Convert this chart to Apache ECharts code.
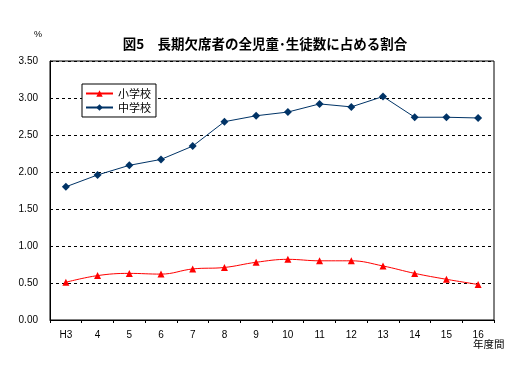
<!DOCTYPE html>
<html><head><meta charset="utf-8">
<script src="https://cdn.jsdelivr.net/npm/echarts@6/dist/echarts.min.js"></script>
<style>html,body{margin:0;padding:0;background:#fff}#c{width:530px;height:379px}</style>
</head><body><div id="c"></div>
<script>
var categories = ['H3','4','5','6','7','8','9','10','11','12','13','14','15','16'];
var elementary = [0.51,0.60,0.63,0.62,0.69,0.71,0.78,0.82,0.80,0.80,0.73,0.63,0.55,0.48];
var juniorHigh = [1.80,1.96,2.09,2.17,2.35,2.68,2.76,2.81,2.92,2.88,3.02,2.74,2.74,2.73];
var yTicks = ['0.00','0.50','1.00','1.50','2.00','2.50','3.00','3.50'];

var chart = echarts.init(document.getElementById('c'), null, {renderer:'canvas'});
var fontJP = '"Noto Sans CJK JP", sans-serif';
chart.setOption({
  animation:false,
  backgroundColor:'#fff',
  title:{text:'図5　長期欠席者の全児童･生徒数に占める割合', left:'center', top:32,
    textStyle:{fontFamily:fontJP, fontSize:13.5, fontWeight:'bold', color:'#000'}},
  graphic:[
    {type:'text', left:34, top:30, style:{text:'%', fontSize:9, fontFamily:'sans-serif', fill:'#000'}},
    {type:'text', left:473, top:339, style:{text:'年度間', fontSize:10.5, fontFamily:fontJP, fill:'#000'}}
  ],
  legend:{
    left:82, top:84, orient:'vertical', itemGap:3, itemWidth:27, itemHeight:8,
    backgroundColor:'#fff', borderColor:'#000', borderWidth:1, padding:[4,5,4,3],
    textStyle:{fontFamily:fontJP, fontSize:11, color:'#000'},
    data:['小学校','中学校']
  },
  grid:{left:50, right:36, top:61, bottom:59, show:true, borderColor:'#000', borderWidth:1},
  xAxis:{type:'category', data:categories, boundaryGap:true,
    axisLine:{lineStyle:{color:'#000'}},
    axisTick:{show:true, inside:false, length:3, lineStyle:{color:'#000'}},
    axisLabel:{color:'#000', fontSize:10, margin:10, fontFamily:'sans-serif'}},
  yAxis:{type:'value', min:0, max:3.5, interval:0.5,
    axisLine:{show:true, lineStyle:{color:'#000'}},
    axisTick:{show:false},
    axisLabel:{color:'#000', fontSize:10, margin:12, fontFamily:'sans-serif',
      formatter:function(v){return yTicks[Math.round(v/0.5)];}},
    splitLine:{show:true, lineStyle:{color:'#000', type:[3,3], width:1}}},
  series:[
    {name:'小学校', type:'line', data:elementary, smooth:0.4, symbol:'triangle', symbolSize:7,
      itemStyle:{color:'#ff0000'}, lineStyle:{color:'#ff0000', width:1}},
    {name:'中学校', type:'line', data:juniorHigh, symbol:'diamond', symbolSize:8,
      itemStyle:{color:'#003366'}, lineStyle:{color:'#003366', width:1}}
  ]
});
</script></body></html>
